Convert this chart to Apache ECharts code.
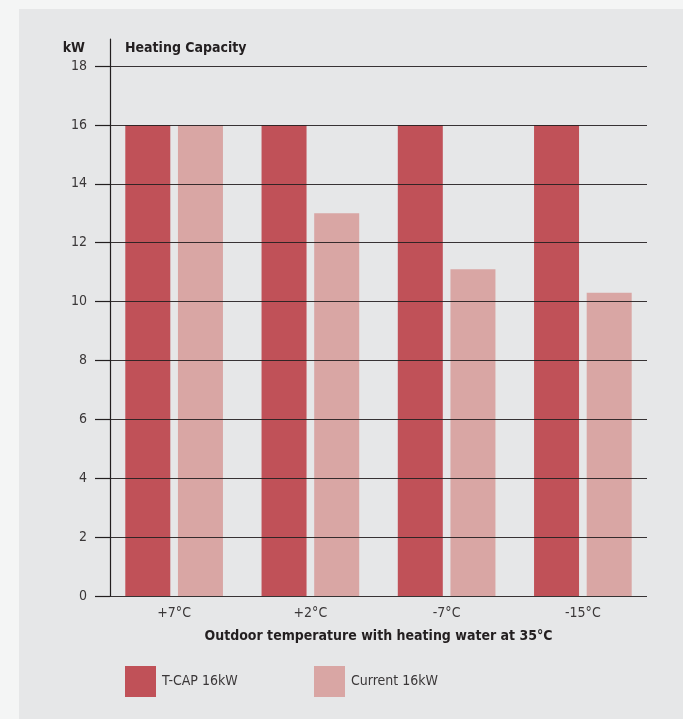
<!DOCTYPE html>
<html>
<head>
<meta charset="utf-8">
<script src="https://cdn.jsdelivr.net/npm/echarts@6/dist/echarts.min.js"></script>
<style>
  html, body { margin: 0; padding: 0; background: #f4f5f5; }
  #panel { position: absolute; left: 19px; top: 9px; width: 664px; height: 710px; background: #e6e7e8; }
  #chart { position: absolute; left: 0; top: 0; width: 683px; height: 719px; }
</style>
</head>
<body>
<div id="panel"></div>
<div id="chart"></div>
<script>
// Outdoor temperature categories
const categories = ['+7°C', '+2°C', '-7°C', '-15°C'];
// Heating capacity in kW
const tcap16 = [16, 16, 16, 16];
const current16 = [16, 13, 11.1, 10.3];
// Y axis range
const yMin = 0;
const yMax = 18;
const yStep = 2;

const FONT = '"Liberation Sans Narrow", "DejaVu Sans Condensed", "Roboto", sans-serif';
const INK = '#231f20';
const LABEL = '#3a3738';
const DARK = '#c05158';
const LIGHT = '#d9a6a4';

const chart = echarts.init(document.getElementById('chart'));
chart.setOption({
  animation: false,
  textStyle: { fontFamily: FONT },
  title: [
    { text: 'Heating Capacity', left: 120, top: 36,
      textStyle: { fontFamily: FONT, fontSize: 14, fontWeight: 'bold', color: INK } },
    { text: 'kW', right: 683 - 90, top: 36,
      textStyle: { fontFamily: FONT, fontSize: 14, fontWeight: 'bold', color: INK } }
  ],
  legend: [
    { data: ['T-CAP 16kW'], left: 120, top: 661, itemWidth: 31, itemHeight: 31, icon: 'rect',
      textStyle: { fontFamily: FONT, fontSize: 14, color: LABEL, padding: [0, 0, 0, 1] } },
    { data: ['Current 16kW'], left: 309, top: 661, itemWidth: 31, itemHeight: 31, icon: 'rect',
      textStyle: { fontFamily: FONT, fontSize: 14, color: LABEL, padding: [0, 0, 0, 1] } }
  ],
  grid: [
    // bars
    { left: 106, right: 32, top: 66, bottom: 123 },
    // value gridlines
    { left: 110, right: 36, top: 66, bottom: 123 },
    // tall vertical axis line
    { left: 110, right: 36, top: 39, bottom: 123 }
  ],
  xAxis: [
    { gridIndex: 0, type: 'category', data: categories,
      axisLine: { show: false }, axisTick: { show: false },
      axisLabel: { margin: 10, fontFamily: FONT, fontSize: 14, color: LABEL },
      name: 'Outdoor temperature with heating water at 35°C',
      nameLocation: 'middle', nameGap: 33,
      nameTextStyle: { fontFamily: FONT, fontSize: 14, fontWeight: 'bold', color: INK } },
    { gridIndex: 1, type: 'value', show: false },
    { gridIndex: 2, type: 'value', show: false }
  ],
  yAxis: [
    { gridIndex: 0, type: 'value', min: yMin, max: yMax, interval: yStep, show: false },
    { gridIndex: 1, type: 'value', min: yMin, max: yMax, interval: yStep, z: 3,
      axisLine: { show: false },
      axisTick: { show: true, length: 15, lineStyle: { color: INK, width: 1.2 } },
      axisLabel: { margin: 23, fontFamily: FONT, fontSize: 14, color: LABEL },
      splitLine: { show: true, lineStyle: { color: INK, width: 1.2, opacity: 0.9 } } },
    { gridIndex: 2, type: 'value', min: 0, max: 1, z: 3,
      axisLine: { show: true, lineStyle: { color: INK, width: 1.2 } },
      axisTick: { show: false }, axisLabel: { show: false }, splitLine: { show: false } }
  ],
  series: [
    { name: 'T-CAP 16kW', type: 'bar', xAxisIndex: 0, yAxisIndex: 0, data: tcap16,
      barWidth: 45, barGap: '17%', itemStyle: { color: DARK } },
    { name: 'Current 16kW', type: 'bar', xAxisIndex: 0, yAxisIndex: 0, data: current16,
      barWidth: 45, barGap: '17%', itemStyle: { color: LIGHT } }
  ]
});
</script>
</body>
</html>
